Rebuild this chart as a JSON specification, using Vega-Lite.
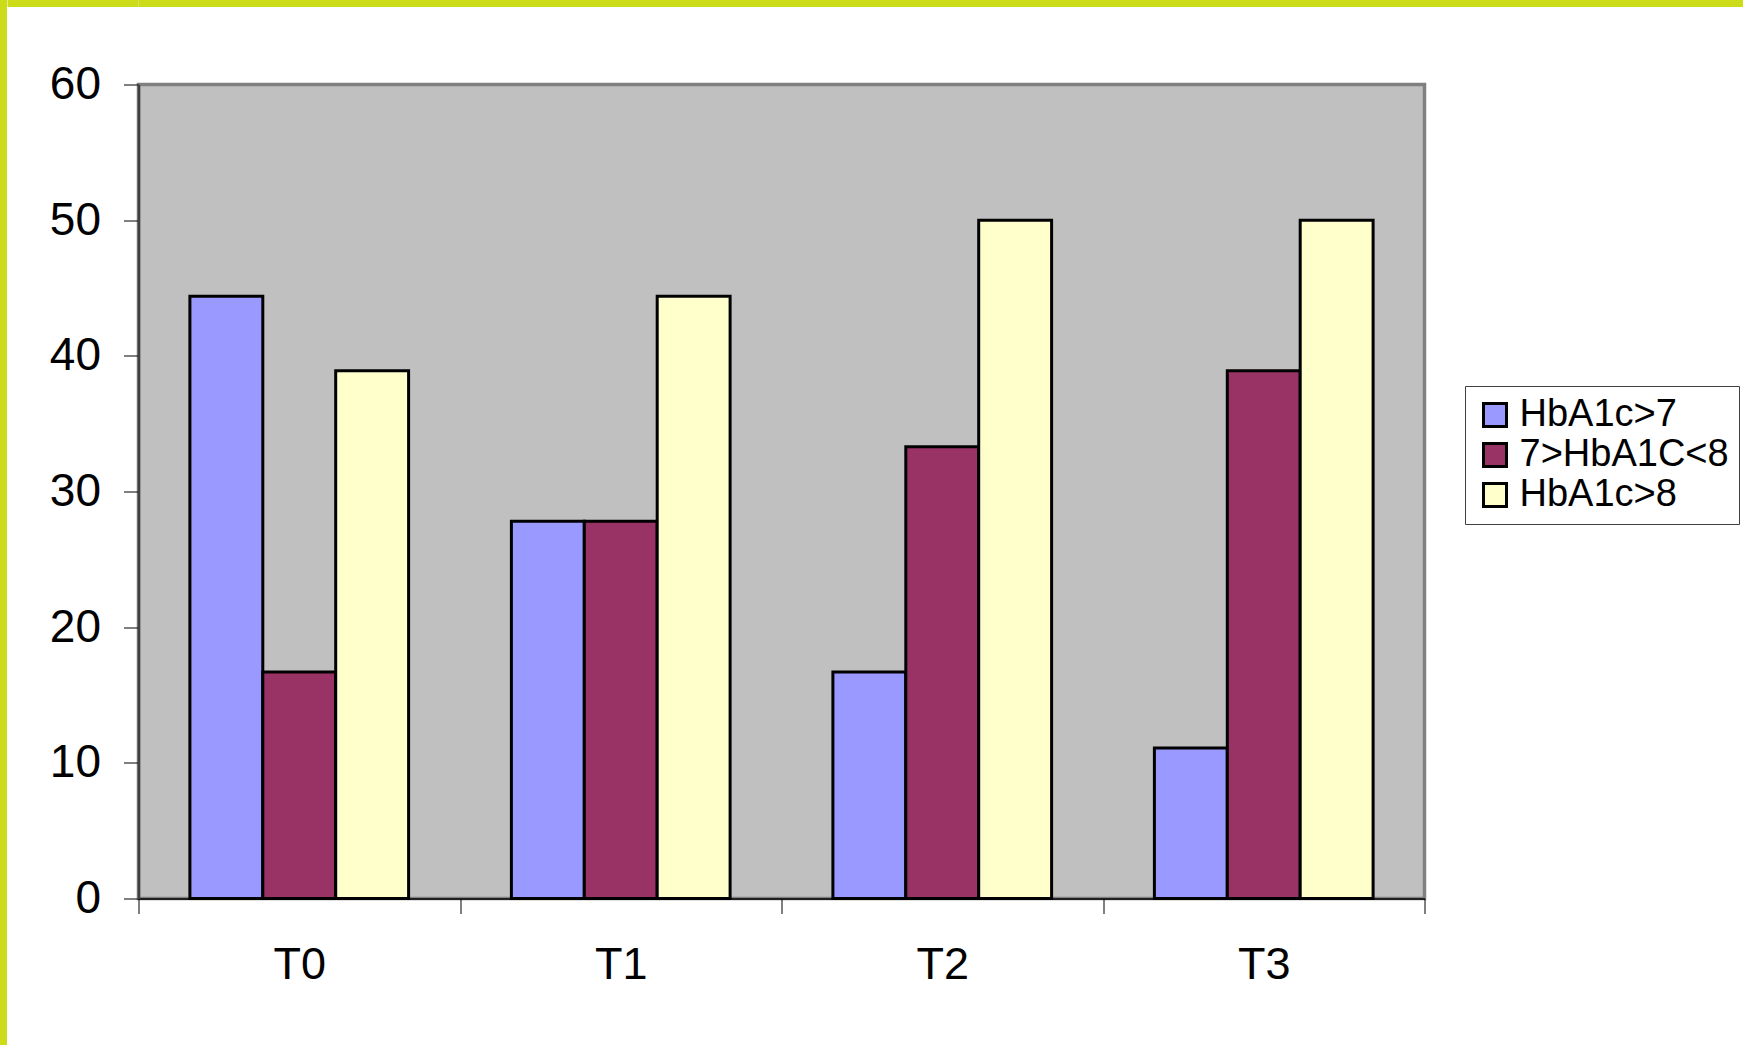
{
  "$schema": "https://vega.github.io/schema/vega-lite/v6.json",
  "padding": 0,
  "background": "white",
  "spacing": -3.5,
  "config": {
    "font": "Liberation Sans",
    "view": {"stroke": null},
    "concat": {"spacing": 0}
  },
  "hconcat": [
    {
      "width": 7,
      "height": 1045,
      "data": {"values": []},
      "mark": "point",
      "view": {"fill": "#CCDC18", "stroke": null}
    },
    {
      "spacing": 52.5,
      "vconcat": [
        {
          "width": 1605,
          "height": 7,
          "data": {"values": [{}]},
          "mark": {"type": "point", "opacity": 0},
          "view": {"fill": "#CCDC18", "stroke": null},
          "encoding": {
            "y": {
              "datum": 0,
              "type": "quantitative",
              "scale": {"domain": [-1, 1]},
              "axis": {
                "title": null,
                "values": [0],
                "labels": false,
                "domain": false,
                "grid": false,
                "translate": 0,
                "tickRound": false,
                "tickSize": 131,
                "tickWidth": 7,
                "tickCap": "butt",
                "tickColor": "#CCDC18",
                "minExtent": 131,
                "maxExtent": 131
              }
            }
          }
        },
        {
          "width": 1286,
          "height": 814,
          "data": {
            "values": [
              {"time": "T0", "group": "HbA1c>7", "value": 44.4},
              {"time": "T0", "group": "7>HbA1C<8", "value": 16.7},
              {"time": "T0", "group": "HbA1c>8", "value": 38.9},
              {"time": "T1", "group": "HbA1c>7", "value": 27.8},
              {"time": "T1", "group": "7>HbA1C<8", "value": 27.8},
              {"time": "T1", "group": "HbA1c>8", "value": 44.4},
              {"time": "T2", "group": "HbA1c>7", "value": 16.7},
              {"time": "T2", "group": "7>HbA1C<8", "value": 33.3},
              {"time": "T2", "group": "HbA1c>8", "value": 50},
              {"time": "T3", "group": "HbA1c>7", "value": 11.1},
              {"time": "T3", "group": "7>HbA1C<8", "value": 38.9},
              {"time": "T3", "group": "HbA1c>8", "value": 50}
            ]
          },
          "view": {"fill": "#C0C0C0", "stroke": "#808080", "strokeWidth": 3.5},
          "mark": {"type": "bar", "stroke": "black", "strokeWidth": 3, "strokeJoin": "miter"},
          "encoding": {
            "x": {
              "field": "time",
              "type": "nominal",
              "sort": ["T0", "T1", "T2", "T3"],
              "scale": {"paddingInner": 0, "paddingOuter": 0},
              "axis": {
                "title": null,
                "labelAngle": 0,
                "tickBand": "extent",
                "tickSize": 15,
                "tickColor": "black",
                "domainColor": "black",
                "domainWidth": 1.5,
                "labelFontSize": 45,
                "labelPadding": 29,
                "labelColor": "black"
              }
            },
            "xOffset": {
              "field": "group",
              "type": "nominal",
              "sort": ["HbA1c>7", "7>HbA1C<8", "HbA1c>8"],
              "scale": {"paddingInner": 0, "paddingOuter": 0.705}
            },
            "y": {
              "field": "value",
              "type": "quantitative",
              "scale": {"domain": [0, 60], "nice": false},
              "axis": {
                "title": null,
                "values": [0, 10, 20, 30, 40, 50, 60],
                "grid": false,
                "tickSize": 15,
                "tickColor": "black",
                "domainColor": "#404040",
                "domainWidth": 2.5,
                "labelFontSize": 46,
                "labelPadding": 23,
                "labelColor": "black",
                "minExtent": 131,
                "maxExtent": 131
              }
            },
            "color": {
              "field": "group",
              "type": "nominal",
              "sort": ["HbA1c>7", "7>HbA1C<8", "HbA1c>8"],
              "scale": {
                "domain": ["HbA1c>7", "7>HbA1C<8", "HbA1c>8"],
                "range": ["#9999FF", "#993366", "#FFFFCC"]
              },
              "legend": {
                "title": null,
                "orient": "none",
                "legendX": 1465,
                "legendY": 386,
                "direction": "vertical",
                "fillColor": "white",
                "strokeColor": "#404040",
                "padding": 10,
                "symbolType": "square",
                "symbolSize": 529,
                "symbolOffset": 1,
                "symbolStrokeColor": "black",
                "symbolStrokeWidth": 3,
                "symbolOpacity": 1,
                "labelFontSize": 38,
                "labelOffset": 5.5,
                "rowPadding": 2,
                "labelColor": "black",
                "labelLimit": 400
              }
            }
          }
        }
      ]
    }
  ]
}
